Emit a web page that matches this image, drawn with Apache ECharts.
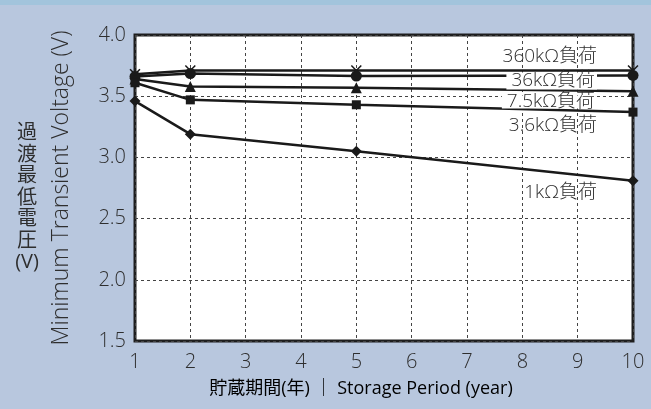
<!DOCTYPE html>
<html>
<head>
<meta charset="utf-8">
<script src="https://cdn.jsdelivr.net/npm/echarts@6/dist/echarts.min.js"></script>
<style>
html,body{margin:0;padding:0;background:#b8c7de;}
#c{width:651px;height:409px;}
</style>
</head>
<body>
<div id="c"></div>
<script>
var years = [1, 2, 5, 10];
var load360k = [3.68, 3.71, 3.71, 3.71];
var load36k = [3.66, 3.685, 3.665, 3.67];
var load7_5k = [3.64, 3.58, 3.57, 3.54];
var load3_6k = [3.61, 3.47, 3.43, 3.37];
var load1k = [3.46, 3.19, 3.05, 2.81];
var xTicks = [1, 2, 3, 4, 5, 6, 7, 8, 9, 10];
var yTicks = ['1.5', '2.0', '2.5', '3.0', '3.5', '4.0'];
var seriesNames = ['360kΩ負荷', '36kΩ負荷', '7.5kΩ負荷', '3.6kΩ負荷', '1kΩ負荷'];

var FONT = '"Open Sans", "Noto Sans", "Noto Sans CJK JP", sans-serif';
var crossPath = 'path://M0,1 L1,0 L5,4 L9,0 L10,1 L6,5 L10,9 L9,10 L5,6 L1,10 L0,9 L4,5 Z';

function pairs(vals) { return years.map(function (y, i) { return [y, vals[i]]; }); }
function mk(name, vals, symbol, size) {
  return {
    name: name, type: 'line', data: pairs(vals), symbol: symbol, symbolSize: size,
    lineStyle: { color: '#1a1a1a', width: 2.5 },
    itemStyle: { color: '#1a1a1a' }, z: 3
  };
}

var chart = echarts.init(document.getElementById('c'), null, { renderer: 'canvas' });
chart.setOption({
  backgroundColor: '#b8c7de',
  animation: false,
  grid: { left: 135, right: 18, top: 35, bottom: 68, show: true, backgroundColor: '#ffffff', borderColor: '#1e1e1e', borderWidth: 3, z: 0 },
  xAxis: {
    type: 'value', min: 1, max: 10, interval: 1,
    axisLine: { show: false }, axisTick: { show: false },
    axisLabel: { color: '#2e2e2e', fontSize: 20, fontWeight: 300, fontFamily: FONT, margin: 11 },
    splitLine: { show: true, lineStyle: { color: '#444', width: 1, type: [3, 3] } }
  },
  yAxis: {
    type: 'value', min: 1.5, max: 4.0, interval: 0.5,
    name: 'Minimum Transient Voltage (V)', nameLocation: 'middle', nameRotate: 90, nameGap: 62,
    nameTextStyle: { color: '#2e2e2e', fontSize: 23, fontWeight: 300, fontFamily: FONT },
    axisLine: { show: false }, axisTick: { show: false },
    axisLabel: { color: '#2e2e2e', fontSize: 20, fontWeight: 300, fontFamily: FONT, margin: 9, formatter: function (v) { return v.toFixed(1); } },
    splitLine: { show: true, lineStyle: { color: '#444', width: 1, type: [3, 3] } }
  },
  series: [
    mk(seriesNames[0], load360k, crossPath, 11),
    mk(seriesNames[1], load36k, 'circle', 11),
    mk(seriesNames[2], load7_5k, 'triangle', 11),
    mk(seriesNames[3], load3_6k, 'rect', 9),
    mk(seriesNames[4], load1k, 'diamond', 11)
  ],
  graphic: [
    { type: 'rect', left: 0, top: 0, shape: { width: 651, height: 5 }, style: { fill: '#a2c4dc' }, z: 1 },
    { type: 'text', x: 597, y: 57, z: 10, style: { text: seriesNames[0], font: '300 19px ' + FONT, fill: '#2e2e2e', align: 'right', verticalAlign: 'middle' } },
    { type: 'text', x: 597, y: 81, z: 10, style: { text: seriesNames[1], font: '300 19px ' + FONT, fill: '#2e2e2e', align: 'right', verticalAlign: 'middle', backgroundColor: '#fff', padding: [-1, 2, -1, 5] } },
    { type: 'text', x: 597, y: 102, z: 10, style: { text: seriesNames[2], font: '300 19px ' + FONT, fill: '#2e2e2e', align: 'right', verticalAlign: 'middle', backgroundColor: '#fff', padding: [-3, 2, -3, 5] } },
    { type: 'text', x: 597, y: 126, z: 10, style: { text: seriesNames[3], font: '300 19px ' + FONT, fill: '#2e2e2e', align: 'right', verticalAlign: 'middle' } },
    { type: 'text', x: 597, y: 193, z: 10, style: { text: seriesNames[4], font: '300 19px ' + FONT, fill: '#2e2e2e', align: 'right', verticalAlign: 'middle' } },
    { type: 'text', x: 27, y: 198, z: 10, style: { text: '過\n渡\n最\n低\n電\n圧\n(V)', font: '20px ' + FONT, lineHeight: 21.5, fill: '#2e2e2e', align: 'center', verticalAlign: 'middle' } },
    { type: 'text', x: 361, y: 389, z: 10, style: {
        text: '{a|貯蔵期間(年)}{s| ｜ }{a|Storage Period (year)}', align: 'center', verticalAlign: 'middle',
        rich: { a: { fontSize: 18, fontFamily: FONT, color: '#2e2e2e' }, s: { fontSize: 18, fontFamily: FONT, color: '#8a8a8a' } }
      } }
  ]
});
</script>
</body>
</html>
